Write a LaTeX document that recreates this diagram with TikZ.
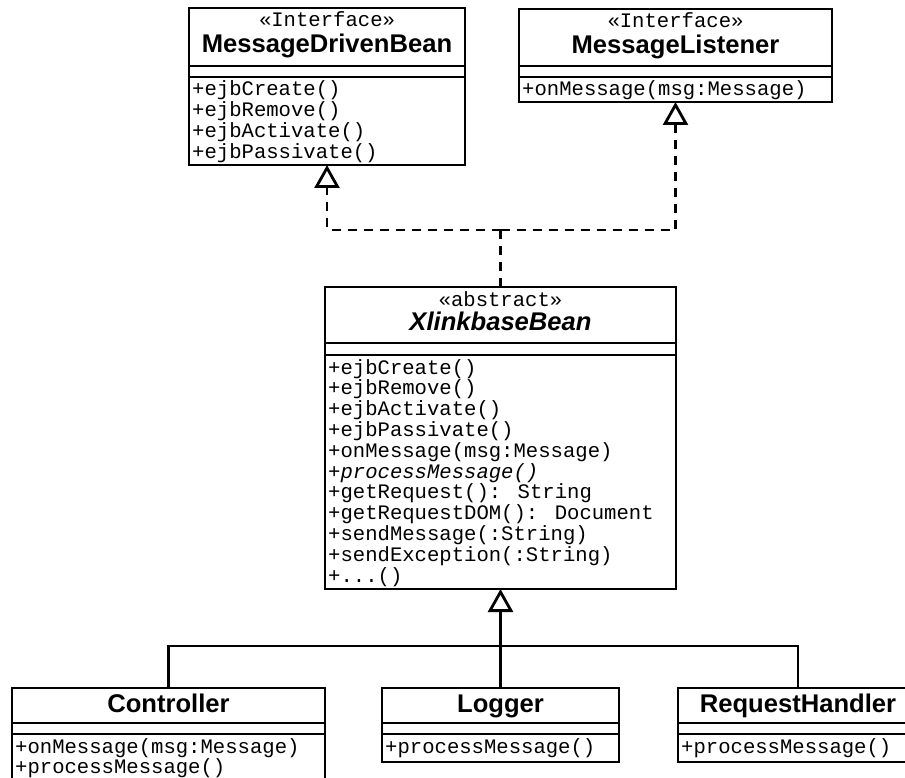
\documentclass[tikz,border=0pt]{standalone}
\usepackage{fontspec}
\setmainfont{Liberation Sans}
\newfontfamily\umlmono{Liberation Mono}
\usetikzlibrary{arrows.meta}

% horizontal compartment rules inside a class box (offsets from its top edge)
\newcommand\classrules[3]{%
  \draw[rule] ([yshift=-#2pt]#1.north west) -- ([yshift=-#2pt]#1.north east);
  \draw[rule] ([yshift=-#3pt]#1.north west) -- ([yshift=-#3pt]#1.north east);}

\begin{document}
\begin{tikzpicture}[x=1pt,y=-1pt,
  classbox/.style={draw, line width=2.8pt, inner sep=0pt, outer sep=0pt,
    anchor=north west, fill=white},
  rule/.style={line width=2.8pt},
  classname/.style={font=\fontsize{25.6}{27}\selectfont\bfseries,
    anchor=base, inner sep=0pt},
  stereotype/.style={font=\umlmono\fontsize{20.6}{21}\selectfont,
    anchor=base, inner sep=0pt},
  member/.style={font=\umlmono\fontsize{20.6}{21}\selectfont,
    anchor=base west, inner sep=0pt},
  hollowtip/.tip={Triangle[open, length=23pt, width=25pt, line join=miter]},
  inherit/.style={line width=2.8pt, -hollowtip},
  realize/.style={line width=2.8pt, dash pattern=on 9pt off 7pt},
  bus/.style={line width=2.8pt}]

\useasboundingbox (0,0) rectangle (905,778);
\fill[white] (0,0) rectangle (905,778);
\clip (0,0) rectangle (905,778);

% ---------- interfaces ----------
\node[classbox, minimum width=276pt, minimum height=157pt] (mdb) at (189,8) {};
\classrules{mdb}{58}{69}
\node[stereotype] (mdbst) at (327,27) {«Interface»};
\node[classname] (mdbname) at (327,53) {MessageDrivenBean};
\foreach \m [count=\i from 0] in {+ejbCreate(),+ejbRemove(),+ejbActivate(),+ejbPassivate()}
  \node[member] (mdbop\i) at (192,96+20.8*\i) {\m};

\node[classbox, minimum width=313pt, minimum height=93pt] (ml) at (519,9) {};
\classrules{ml}{57}{68}
\node[stereotype] (mlst) at (675.5,28) {«Interface»};
\node[classname] (mlname) at (675.5,54) {MessageListener};
\node[member] (mlop) at (522,96) {+onMessage(msg:Message)};

% ---------- abstract base bean ----------
\node[classbox, minimum width=351pt, minimum height=302pt] (xb) at (325,287) {};
\classrules{xb}{56}{68}
\node[stereotype] (xbst) at (500.5,306) {«abstract»};
\node[classname, font=\fontsize{25.6}{27}\selectfont\bfseries\itshape] (xbname) at (500.5,330) {XlinkbaseBean};
\node[member] (xbop0) at (328,374.0) {+ejbCreate()};
\node[member] (xbop1) at (328,394.8) {+ejbRemove()};
\node[member] (xbop2) at (328,415.6) {+ejbActivate()};
\node[member] (xbop3) at (328,436.4) {+ejbPassivate()};
\node[member] (xbop4) at (328,457.2) {+onMessage(msg:Message)};
\node[member, font=\umlmono\fontsize{20.6}{21}\selectfont\itshape] (xbop5) at (328,478.0) {+processMessage()};
\node[member] (xbop6) at (328,498.8) {+getRequest(): String};
\node[member] (xbop7) at (328,519.6) {+getRequestDOM(): Document};
\node[member] (xbop8) at (328,540.4) {+sendMessage(:String)};
\node[member] (xbop9) at (328,561.2) {+sendException(:String)};
\node[member] (xbop10) at (328,582.0) {+...()};

% ---------- concrete beans ----------
\node[classbox, minimum width=313pt, minimum height=95pt] (ctrl) at (12,688) {};
\classrules{ctrl}{35}{46}
\node[classname] (ctrlname) at (168.5,712) {Controller};
\node[member] (ctrlop0) at (15,753) {+onMessage(msg:Message)};
\node[member] (ctrlop1) at (15,773.8) {+processMessage()};

\node[classbox, minimum width=237pt, minimum height=74pt] (logger) at (382,688) {};
\classrules{logger}{35}{46}
\node[classname] (loggername) at (500.5,712) {Logger};
\node[member] (loggerop) at (385,753) {+processMessage()};

\node[classbox, minimum width=240pt, minimum height=74pt] (rh) at (678,688) {};
\classrules{rh}{35}{46}
\node[classname] (rhname) at (798,712) {RequestHandler};
\node[member] (rhop) at (681,753) {+processMessage()};

% ---------- realization of the two interfaces ----------
\coordinate (split) at (500.5,230);
\draw[realize] (xb.north) -- (split);
\draw[realize, -hollowtip] (split) -| (mdb.south);
\draw[realize, -hollowtip] (split) -| (ml.south);

% ---------- generalization tree ----------
\coordinate (junction) at (500.5,646);
\draw[inherit] (logger.north) -- (xb.south);
\draw[bus] (ctrl.north) |- (junction) -| (rh.north);

\end{tikzpicture}
\end{document}
